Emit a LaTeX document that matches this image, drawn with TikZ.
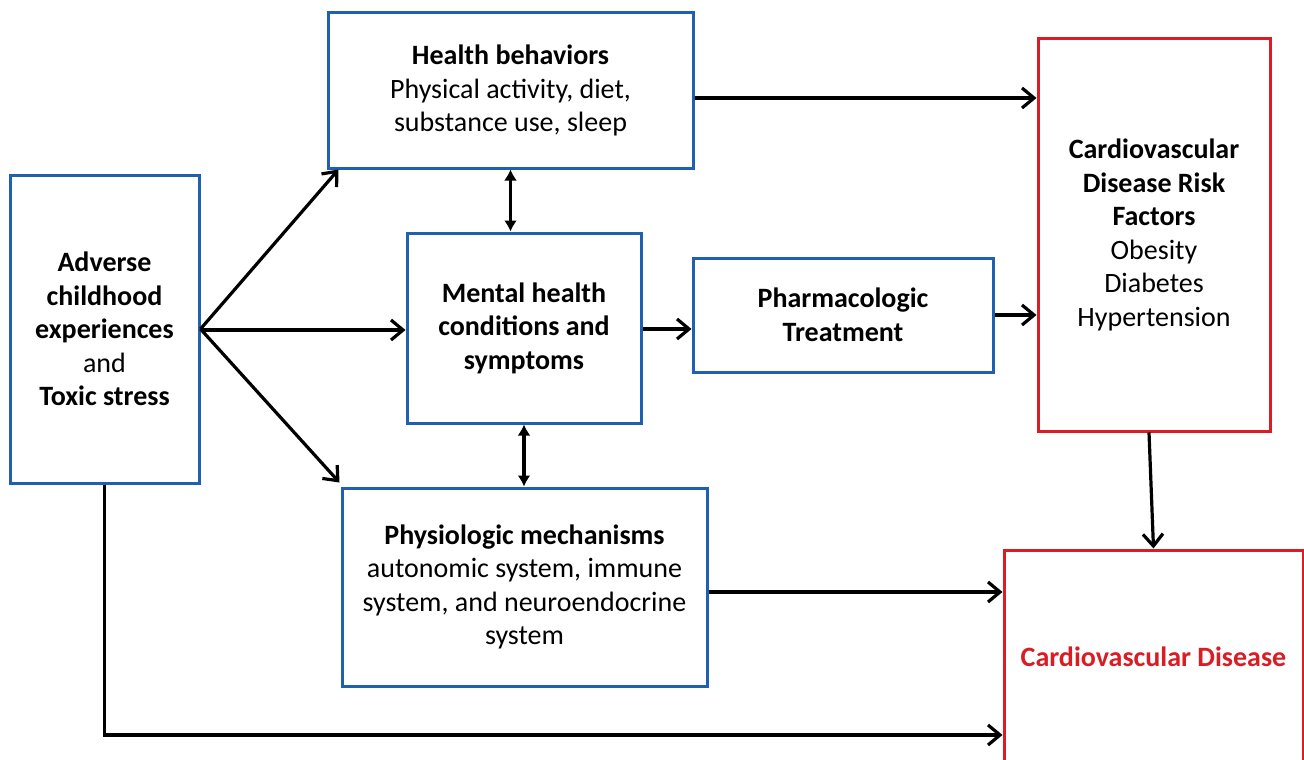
\documentclass[tikz,border=0pt]{standalone}
\usepackage{fontspec}
\setmainfont{Carlito}
\usetikzlibrary{arrows.meta,calc}
\definecolor{bblue}{RGB}{31,96,176}
\definecolor{rred}{RGB}{218,28,36}
\begin{document}
\begin{tikzpicture}[x=1pt,y=-1pt,
  box/.style={draw=bblue,line width=3pt,align=center,inner sep=0pt,
    font=\fontsize{28}{33.5}\selectfont},
  rbox/.style={box,draw=rred},
  arr/.style={line width=3.2pt,-{Straight Barb[length=12pt,width=20pt,line width=3.2pt]}},
  dbl/.style={line width=3.2pt,{Latex[length=11pt,width=13pt]}-{Latex[length=11pt,width=13pt]}}]
\useasboundingbox (0,0) rectangle (1304,760);
\clip (0,0) rectangle (1304,760);
\fill[white] (0,0) rectangle (1304,760);

\node[box,minimum width=189pt,minimum height=308pt] (adv) at (104.5,329)
  {\bfseries Adverse\\ \bfseries childhood\\ \bfseries experiences\\ and\\ \bfseries Toxic stress};
\node[box,minimum width=365pt,minimum height=155pt] (hb) at (510.5,90.5)
  {\bfseries Health behaviors\\ Physical activity, diet,\\ substance use, sleep};
\node[box,minimum width=234pt,minimum height=190pt] (mh) at (524,328)
  {\bfseries Mental health\\ \bfseries conditions and\\ \bfseries symptoms};
\node[box,minimum width=300pt,minimum height=114pt] (ph) at (843,315)
  {\bfseries Pharmacologic\\ \bfseries Treatment};
\node[box,minimum width=365pt,minimum height=198pt] (pm) at (524.5,587)
  {\bfseries Physiologic mechanisms\\ autonomic system, immune\\ system, and neuroendocrine\\ system};
\node[rbox,minimum width=232pt,minimum height=392pt] (cr) at (1154,235)
  {\bfseries Cardiovascular\\ \bfseries Disease Risk\\ \bfseries Factors\\ Obesity\\ Diabetes\\ Hypertension};
\node[rbox,minimum width=299pt,minimum height=214pt,text=rred] (cvd) at (1153.5,657)
  {\bfseries Cardiovascular Disease};
\coordinate (bot) at (0,735);

\draw[arr] (adv.east) -- ([xshift=12pt]hb.south west);
\draw[arr] ([yshift=-1pt]adv.east) -- ([yshift=-1pt]adv.east -| mh.west);
\draw[arr] (adv.east) -- ([xshift=-1pt,yshift=4pt]pm.north west);
\draw[arr] ([yshift=-7.5pt]hb.east) -- ([yshift=-7.5pt]hb.east -| cr.west);
\draw[dbl] (hb.south) -- (hb.south |- mh.north);
\draw[dbl] (mh.south) -- (mh.south |- pm.north);
\draw[arr] ([yshift=-1pt]mh.east) -- ([yshift=-1pt]mh.east -| ph.west);
\draw[arr] (ph.east) -- (ph.east -| cr.west);
\draw[arr] ([xshift=-5pt]cr.south) -- (cvd.north);
\draw[arr] ([yshift=-5pt]pm.east) -- ([yshift=-5pt]pm.east -| cvd.west);
\draw[arr] (adv.south) |- (bot -| cvd.west);
\end{tikzpicture}
\end{document}
